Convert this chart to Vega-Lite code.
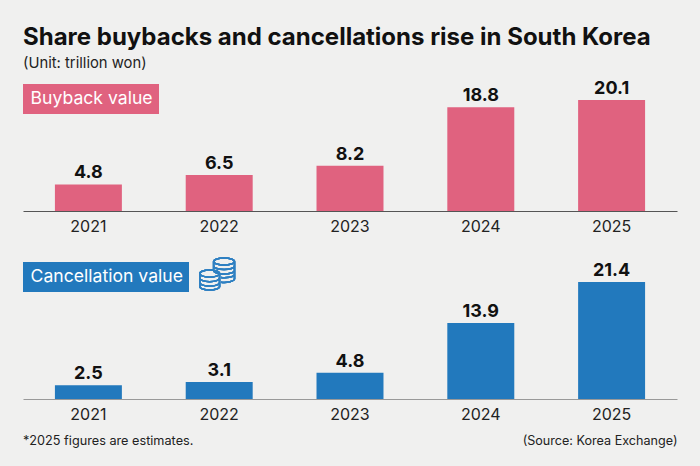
{
"$schema":"https://vega.github.io/schema/vega-lite/v6.json",
"background":"#f0f0ef",
"padding":{"left":23,"top":26,"right":23,"bottom":20},
"title":{"text":"Share buybacks and cancellations rise in South Korea","subtitle":"(Unit: trillion won)","anchor":"start","frame":"group","font":"Inter","fontSize":24,"fontWeight":700,"color":"#111111","subtitleFont":"Inter","subtitleFontSize":14.8,"subtitleColor":"#222222","subtitlePadding":6,"offset":9},
"config":{"view":{"stroke":null},"font":"Inter",
"axisX":{"title":null,"labelAngle":0,"ticks":false,"labelFontSize":16,"labelColor":"#222222","labelFont":"Inter","labelPadding":7,"domainWidth":1.2},
"axisY":{"disable":true},
"legend":{"orient":"none","legendX":0,"legendY":0,"title":null,"labelColor":"#ffffff","labelFont":"Inter","labelFontSize":17.6,"symbolSize":0,"symbolStrokeWidth":0,"labelOffset":-16,"padding":6}},
"data":{"values":[
{"year":"2021","measure":"Buyback value","value":4.8},
{"year":"2022","measure":"Buyback value","value":6.5},
{"year":"2023","measure":"Buyback value","value":8.2},
{"year":"2024","measure":"Buyback value","value":18.8},
{"year":"2025","measure":"Buyback value","value":20.1},
{"year":"2021","measure":"Cancellation value","value":2.5},
{"year":"2022","measure":"Cancellation value","value":3.1},
{"year":"2023","measure":"Cancellation value","value":4.8},
{"year":"2024","measure":"Cancellation value","value":13.9},
{"year":"2025","measure":"Cancellation value","value":21.4}
]},
"spacing":20,
"resolve":{"scale":{"color":"independent"}},
"vconcat":[
{"width":654,"height":127,
"transform":[{"filter":"datum.measure==='Buyback value'"}],
"encoding":{"x":{"field":"year","type":"nominal","scale":{"paddingInner":0.488,"paddingOuter":0.244},"axis":{"domainColor":"#555555"}},
"y":{"field":"value","type":"quantitative","scale":{"domain":[0,23]}}},
"layer":[
{"mark":{"type":"bar"},"encoding":{"color":{"field":"measure","type":"nominal","scale":{"domain":["Buyback value"],"range":["#e0627f"]},"legend":{"fillColor":"#e0627f"}}}},
{"mark":{"type":"text","dy":-11,"fontWeight":700,"fontSize":18,"color":"#111111"},"encoding":{"text":{"field":"value","type":"quantitative","format":".1f"}}}
]},
{"width":654,"height":137,
"title":{"text":"*2025 figures are estimates.","orient":"bottom","anchor":"start","frame":"group","font":"Inter","fontSize":12.7,"fontWeight":400,"color":"#222222","offset":-12},
"transform":[{"filter":"datum.measure==='Cancellation value'"}],
"encoding":{"x":{"field":"year","type":"nominal","scale":{"paddingInner":0.488,"paddingOuter":0.244},"axis":{"domainColor":"#999999","title":"(Source: Korea Exchange)","titleAnchor":"end","titleFont":"Inter","titleFontSize":12.6,"titleFontWeight":400,"titleColor":"#222222","titlePadding":12}},
"y":{"field":"value","type":"quantitative","scale":{"domain":[0,25.05]}}},
"layer":[
{"mark":{"type":"bar"},"encoding":{"color":{"field":"measure","type":"nominal","scale":{"domain":["Cancellation value"],"range":["#2279bd"]},"legend":{"fillColor":"#2279bd"}}}},
{"mark":{"type":"text","dy":-11,"fontWeight":700,"fontSize":18,"color":"#111111"},"encoding":{"text":{"field":"value","type":"quantitative","format":".1f"}}},
{"mark":{"type":"point","filled":false,"stroke":"#2f80c2","strokeWidth":1.5,"opacity":1,"size":1296,"shape":"M-1.08 .05A.55 .2 0 1 0 .02 .05A.55 .2 0 1 0 -1.08 .05M-1.08 .05L-1.08 .77A.55 .2 0 0 0 .02 .77L.02 .05M-1.08 .3A.55 .2 0 0 0 .02 .3M-1.08 .55A.55 .2 0 0 0 .02 .55M-.31 -.62A.58 .2 0 1 0 .85 -.62A.58 .2 0 1 0 -.31 -.62M-.31 -.62L-.31 -.2M.85 -.62L.85 .36A.58 .2 0 0 1 .1 .53M-.31 -.37A.58 .2 0 0 0 .85 -.37M-.31 -.12A.58 .2 0 0 0 .85 -.12M.1 .27A.58 .2 0 0 0 .85 .13"},
"encoding":{"x":{"datum":"2022"},"y":{"datum":23.1}}}
]}
]
}
